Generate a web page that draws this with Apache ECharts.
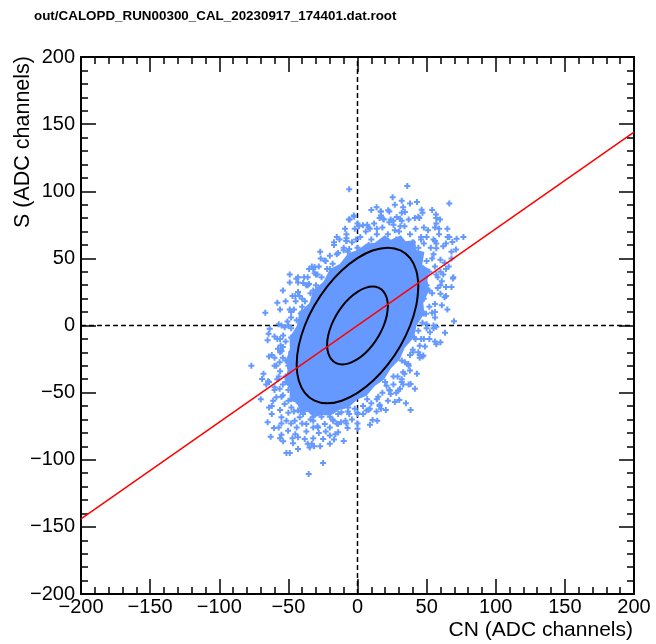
<!DOCTYPE html>
<html>
<head>
<meta charset="utf-8">
<script src="https://cdn.jsdelivr.net/npm/echarts@6/dist/echarts.min.js"></script>
<style>
html,body{margin:0;padding:0;background:#fff;}
#chart{width:656px;height:644px;}
</style>
</head>
<body>
<div id="chart"></div>
<script>
// ---- data ----
const chartTitle = 'out/CALOPD_RUN00300_CAL_20230917_174401.dat.root';
const xTitle = 'CN (ADC channels)';
const yTitle = 'S (ADC channels)';
const axisMin = -200, axisMax = 200, axisStep = 50;

// dense (saturated) core of the cloud, outline
const coreOutline = [
  [50.6,33.4],[51.9,42],[46.8,45.1],[48.4,54.7],[42.7,56.2],[41.5,63.7],[34.8,62.7],[31.3,67.3],
  [24.2,63.8],[19.7,67.3],[12.5,61.6],[6.6,61.1],[0,56.2],[-6.7,53.8],[-12.8,45.9],[-20,42],
  [-24.6,32.5],[-31.9,26.4],[-34.8,16.8],[-42.2,9.2],[-43.8,0],[-49.2,-9.2],[-48.9,-17.3],
  [-51.9,-26.4],[-50.6,-33.4],[-52.8,-42.7],[-48.9,-47.2],[-49.2,-55.6],[-43.8,-57.7],
  [-41.5,-63.7],[-35.8,-64.4],[-31.9,-68.4],[-25.3,-66.7],[-19.7,-67.3],[-12.8,-62.7],
  [-6.6,-61.1],[0,-55.2],[6.6,-52.4],[12.5,-45.1],[19.2,-40.3],[24.2,-31.9],[30.5,-25.3],
  [34.2,-16.5],[40.8,-8.9],[42.7,0],[48.4,9],[47.6,16.8],[51.9,26.4]
];

// individual events around the saturated core
const eventsTop = [
  [-6,101.5],[-6.3,79],[-2.4,81],[-5.6,78.9],[-2.7,82],[36,104],[25.4,95.5],[32,93],[38,90.8],
  [13.8,88],[16.7,85],[23,85],[46.4,86.3],[66.4,90.8],[56.8,82.6],[57,80],[59.7,78.9],[41.5,80],
  [44.7,80],[28.3,80.8],[30.7,79.6],[25.9,78],[18.6,79.6],[19,78.9],[34.3,84.6],[22.2,85.8],
  [8.9,72],[4,74.6],[51,71],[59,72],[59,68],[66.4,66],[71.7,64.7],[76.6,66],[57,61],[57,57.5],
  [71.2,56.7],[68,50],[63,46.8],[69.3,36],[61,33],[64,28.6],[68,28.6],[60,23.7],[63,21],[61,15],
  [49.5,8.7],[54,9.5],[69.8,3.2],[65.2,65.9],[68.6,62.2],
  [-4,62],[2,66],[6,70],[10,64],[14,68],[18,73],[22,68],[26,75],[30,70],[34,74],[38,68],[42,72],
  [46,64],[50,66],[-8,68],[-2,72],[12,76],[28,64],[40,62],[20,62],[0,58],[-10,56],[8,60],[32,78],
  [16,80],[44,58],[36,60],
  [48,61],[31,74],[14,72],[-1,64],[-6,57],[27,71],[46,66],[55,64],[24,79],[7,75],[-8,63],
  [53,58],[48,73],[37,79],[23,77],[8,73],[-8,65],[44,81],[32,84],[17,82],[1,74],[56,73]
];
const eventsRight = [
  [52,40],[56,44],[50,30],[54,24],[58,36],[48,20],[52,14],[56,6],[47,2],[44,-4],[50,-2],[46,-10],
  [60,40],[58,28],[54,50],[62,38],[50,48],[46,44],[56,16],[42,-10],[40,-18],[38,-22],
  [63.3,-5.4],[52.4,-5],[52,-10],[60,-12.4],[57,-14],[48.8,-15.7],[45,-15],[44,-20],[47.6,-22.4],
  [36.7,-28.6],[34.3,-27.4],[37.9,-33.6],[33,-34.8],[38.4,-43.5],[41.5,-47.2],[30.7,-47.2],
  [29.5,-48.5],[23.4,-48.5],[21,-44.8],[30.2,-55.5],[35,-58],[38.4,-63],[20.5,-63],[13.8,-64],
  [8.9,-62],[10.9,-70.4],[14.3,-71],[4.1,-66],[6.5,-63.4],
  [32,-40],[26,-44],[18,-50],[14,-55],[22,-56],[28,-50],[10,-58],[4,-60],[16,-60],[26,-38],[34,-36],
  [57,38],[55,53],[50,1],[40,-20],[29,-38],[15,-53],[7,-55],[20,-42],[32,-26],[41,-9],[48,9],[52,26],
  [60,49],[56,63],[55,0],[45,-22],[32,-42],[16,-59],[8,-63],[23,-48],[37,-30],[48,-10],[56,10],[60,30],
  [64,42],[62,59],[55,-2],[45,-24],[24,-51],[37,-44]
];
const eventsLeft = [
  [-15,66],[-13,64],[-26.6,50],[-23.7,48.5],[-28,44],[-31,39],[-35,42],[-38.6,36],[-49,38],[-49,32],
  [-43,32],[-35,31],[-54,26],[-43,25],[-58,17],[-44.7,18],[-49,12],[-66.7,9.5],[-50.7,3],[-39.3,31.6],
  [-44.2,34.8],[-31,43.5],
  [-44,4],[-40,10],[-46,12],[-38,18],[-42,22],[-34,24],[-30,30],[-36,30],[-26,36],[-22,42],[-18,46],
  [-20,52],[-14,54],[-10,58],[-30,38],[-40,14],[-48,6],[-52,18],[-36,36],
  [-15,53],[-29,38],[-40,20],[-50,0],[-7,55],[-20,42],[-32,26],[-41,9],[-17,60],[-32,42],[-45,22],
  [-55,0],[-8,63],[-23,48],[-37,30],[-48,10]
];
const eventsBottom = [
  [-76.8,-29.9],[-69,-39.8],[-64.7,-41.6],[-64.3,-6.2],[-60,-8.2],[-55.6,-14.9],[-54,-16],[-57.5,-17.4],
  [-52.7,-1.3],[-53.8,-7.5],[-58.7,-29.9],[-56.3,-27.4],[-61,-56],[-58.7,-53.5],[-55,-68.4],[-51.4,-70.9],
  [-60.4,-76.4],[-62.8,-82.8],[-55,-81.3],[-50.2,-78.4],[-53.8,-86.3],[-46.6,-87.8],[-51.4,-95],[-49,-95],
  [-43,-83.3],[-38.2,-84.6],[-34.6,-90.8],[-31.4,-90],[-24.9,-102.5],[-35.3,-110.7],[-24.9,-84.6],
  [-20,-82],[-14,-79.6],[-28.5,-75.9],[-23.7,-73.4],[-37,-73.4],[-32,-71],[-45.4,-71],[-41.8,-68.4],
  [-39.3,-66],[-7.2,-76.4],[-8.7,-71],[-17.6,-71],[-14,-73.4],[-17.6,-63.4],[-11.6,-64.7],[-6.7,-61],
  [-47.8,-61],[-43,-63.4],[-38.2,-63.4],[-60,-46],[-56.3,-47.2],[-52.7,-58.4],[-63.5,-2.5],
  [-2,-62],[-6,-66],[-10,-60],[-14,-66],[-18,-70],[-22,-64],[-26,-68],[-30,-64],[-34,-70],[-38,-60],
  [-42,-58],[-20,-76],[-28,-80],[-12,-72],[-4,-70],[0,-66],[-32,-76],[-24,-60],[-16,-62],[-8,-58],
  [-46,-52],[-50,-48],[-54,-44],[-52,-38],[-56,-34],[-50,-30],[-54,-24],[-48,-20],[-52,-12],[-56,-20],
  [-58,-40],[-48,-40],[-44,-56],[-50,-56],[-46,-64],[-54,-52],[-60,-24],[-58,-10],[-46,-8],[-48,-2],
  [-44,-30],[-46,-44],
  [-48,-9],[-52,-26],[-52,-42],[-48,-55],[-41,-64],[-32,-68],[-20,-68],[-7,-64],[-55,-19],[-57,-38],
  [-55,-53],[-50,-65],[-40,-73],[-29,-75],[-15,-73],[0,-65],[-56,-10],[-60,-30],[-60,-48],[-56,-63],
  [-48,-73],[-37,-79],[-23,-79],[-8,-73],[-62,-22],[-64,-42],[-62,-60],[-55,-73],[-45,-81],[-32,-84],
  [-16,-81],[0,-73],[-44,-76],[-36,-88],[-20,-88],[-62,-66]
];
// sparser outer halo of events
const eventsOuter = [
  [68,55],[65,72],[54,86],[43,92],[27,90],[10,86],[-9,72],[-27,55],[-43,36],[-56,12],[-65,-11],
  [-68,-36],[-70,-55],[-65,-72],[-56,-84],[-43,-92],[-27,-90],[-10,-86],[9,-74],[27,-57],[43,-36],
  [56,-12],[65,12],[69,35],
  [66,44],[64,61],[57,76],[47,84],[33,88],[17,85],[0,76],[-17,62],[-33,44],[-47,22],[-57,1],
  [-64,-23],[-66,-44],[-64,-61],[-57,-76],[-47,-84],[-33,-88],[-17,-85],[0,-77],[17,-62],[33,-44],
  [47,-23],[57,-1],[64,22]
];

// contours (black)
const outerContour = [
  [44,29],[42.5,41],[38.1,50.2],[31.1,56],[22,58],[11.4,56],[0,50.2],[-11.4,41],[-22,29],[-31.1,15],
  [-38.1,0],[-42.5,-15],[-44,-29],[-42.5,-41],[-38.1,-50.2],[-31.1,-56],[-22,-58],[-11.4,-56],[0,-50.2],
  [11.4,-41],[22,-29],[31.1,-15],[38.1,0],[42.5,15],[44,29]
];
const innerContour = [
  [22,14.5],[21.2,20.5],[19,25.1],[15.5,28],[11,29],[5.7,28],[0,25.1],[-5.7,20.5],[-11,14.5],[-15.5,7.5],
  [-19,0],[-21.2,-7.5],[-22,-14.5],[-21.2,-20.5],[-19,-25.1],[-15.5,-28],[-11,-29],[-5.7,-28],[0,-25.1],
  [5.7,-20.5],[11,-14.5],[15.5,-7.5],[19,0],[21.2,7.5],[22,14.5]
];
// red fit line
const fitLine = [[-200,-144],[200,144]];
// dashed zero lines
const zeroLineV = [[0,-200],[0,200]];
const zeroLineH = [[-200,0],[200,0]];

// ---- styling ----
const BLUE = '#6699ff';
const FONT = 'Liberation Sans, Arial, Helvetica, sans-serif';
const plusPath = 'path://M2,0H4V2H6V4H4V6H2V4H0V2H2Z';
const fmt = v => (v < 0 ? '\u2212' + Math.abs(v) : String(v));

function axisCommon(showLabel, pos) {
  return {
    type: 'value', min: axisMin, max: axisMax, interval: axisStep, position: pos,
    axisLine: { show: true, onZero: false, lineStyle: { color: '#000', width: 2 } },
    axisTick: { show: true, inside: true, length: 15, lineStyle: { color: '#000', width: 1.5 } },
    minorTick: { show: true, splitNumber: 5, length: 7, lineStyle: { color: '#000', width: 1.5 } },
    splitLine: { show: false },
    axisLabel: { show: showLabel, color: '#000', fontSize: 20, fontFamily: FONT, formatter: fmt,
                 showMinLabel: true, showMaxLabel: true, hideOverlap: false }
  };
}

const chart = echarts.init(document.getElementById('chart'), null, { renderer: 'canvas' });
const xA0 = axisCommon(true, 'bottom'); xA0.axisLabel.margin = 3;
const yA0 = axisCommon(true, 'left'); yA0.axisLabel.margin = 6;

const eventSeries = (data) => ({
  type: 'scatter', data: data, symbol: plusPath, symbolSize: 6,
  itemStyle: { color: BLUE, opacity: 1 }, z: 3, silent: true
});

chart.setOption({
  animation: false,
  backgroundColor: '#fff',
  title: {
    text: chartTitle, left: 29, top: 5,
    textStyle: { fontSize: 13.4, fontWeight: 'bold', fontFamily: FONT, color: '#000' }
  },
  grid: { left: 81, right: 22, top: 57, bottom: 50, containLabel: false },
  xAxis: [xA0, axisCommon(false, 'top')],
  yAxis: [yA0, axisCommon(false, 'right')],
  graphic: [
    { type: 'text', x: 633, y: 630, style: { text: xTitle, textAlign: 'right', textVerticalAlign: 'middle',
      fontSize: 21, fontFamily: FONT, fill: '#000' } },
    { type: 'text', x: 23, y: 56, rotation: Math.PI / 2, style: { text: yTitle, textAlign: 'right',
      textVerticalAlign: 'middle', fontSize: 21.5, fontFamily: FONT, fill: '#000' } }
  ],
  series: [
    { type: 'line', data: zeroLineV, symbol: 'none', z: 1, silent: true,
      lineStyle: { color: '#000', width: 1.5, type: [5, 3] } },
    { type: 'line', data: zeroLineH, symbol: 'none', z: 1, silent: true,
      lineStyle: { color: '#000', width: 1.5, type: [5, 3] } },
    {
      type: 'custom', data: [0], z: 2, silent: true,
      renderItem: function (params, api) {
        const pts = coreOutline.map(p => api.coord(p));
        return { type: 'polygon', shape: { points: pts }, style: { fill: BLUE } };
      }
    },
    eventSeries(eventsTop),
    eventSeries(eventsRight),
    eventSeries(eventsLeft),
    eventSeries(eventsBottom),
    eventSeries(eventsOuter),
    { type: 'line', data: outerContour, symbol: 'none', smooth: 0.4, z: 5, silent: true,
      lineStyle: { color: '#000', width: 2 } },
    { type: 'line', data: innerContour, symbol: 'none', smooth: 0.4, z: 5, silent: true,
      lineStyle: { color: '#000', width: 2 } },
    { type: 'line', data: fitLine, symbol: 'none', z: 6, silent: true,
      lineStyle: { color: '#ff0000', width: 1.5 } }
  ]
});
</script>
</body>
</html>
